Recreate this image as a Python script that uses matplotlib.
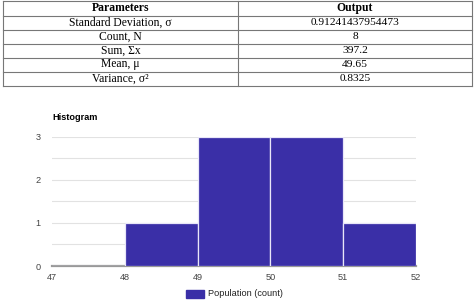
import matplotlib.pyplot as plt
from matplotlib.patches import Rectangle

# table contents
param_names = ["Standard Deviation, σ", "Count, N", "Sum, Σx", "Mean, μ", "Variance, σ²"]
param_values = ["0.91241437954473", "8", "397.2", "49.65", "0.8325"]

# histogram
bin_edges = [47, 48, 49, 50, 51, 52]
counts = [0, 1, 3, 3, 1]

bar_color = "#3a2fa7"

fig = plt.figure(figsize=(4.75, 3.0), dpi=100)

# ---- table drawn in pixel coordinates on a background axes
tab = fig.add_axes([0, 0, 1, 1])
tab.set_xlim(0, 475)
tab.set_ylim(300, 0)
tab.axis("off")

x0, xm, x1 = 3, 238, 472
row_y = [1, 15.5, 29.5, 43.5, 57.5, 71.5, 86]
line_col = "#777777"
for y in row_y:
    tab.plot([x0, x1], [y, y], color=line_col, lw=0.8)
for x in (x0, xm, x1):
    tab.plot([x, x], [row_y[0], row_y[-1]], color=line_col, lw=0.8)

serif = "Liberation Serif"
cl, cr = (x0 + xm) / 2, (xm + x1) / 2
yc = (row_y[0] + row_y[1]) / 2
tab.text(cl, yc, "Parameters", ha="center", va="center", family=serif,
         fontweight="bold", fontsize=8.4)
tab.text(cr, yc, "Output", ha="center", va="center", family=serif,
         fontweight="bold", fontsize=8.4)
for i, (n, v) in enumerate(zip(param_names, param_values)):
    yc = (row_y[i + 1] + row_y[i + 2]) / 2
    tab.text(cl, yc, n, ha="center", va="center", family=serif, fontsize=8.4)
    tab.text(cr, yc, v, ha="center", va="center", family=serif, fontsize=8.2)

# ---- histogram
ax = fig.add_axes([52 / 475, 1 - 266 / 300, 364 / 475, (266 - 136.7) / 300])
widths = [b - a for a, b in zip(bin_edges[:-1], bin_edges[1:])]
ax.bar(bin_edges[:-1], counts, width=widths, align="edge", color=bar_color,
       edgecolor="#e8e6f8", linewidth=0.9, zorder=3)
ax.set_xlim(bin_edges[0], bin_edges[-1])
ax.set_ylim(0, 3)
ax.set_yticks([0, 1, 2, 3])
ax.set_yticks([0.5, 1.5, 2.5], minor=True)
ax.set_xticks(bin_edges)
ax.grid(axis="y", which="both", color="#e2e2e2", lw=0.8, zorder=0)
for s in ("top", "right", "left"):
    ax.spines[s].set_visible(False)
ax.spines["bottom"].set_color("#999999")
ax.spines["bottom"].set_linewidth(1.6)
ax.spines["bottom"].set_zorder(2)
ax.tick_params(which="both", length=0, labelsize=6.6, labelcolor="#444444")
ax.tick_params(axis="y", pad=8)
ax.tick_params(axis="x", pad=5)
for lab in ax.get_xticklabels() + ax.get_yticklabels():
    lab.set_family("Liberation Sans")

fig.text(52 / 475, 1 - 117 / 300, "Histogram", family="Liberation Sans",
         fontweight="bold", fontsize=6.6, va="center", ha="left")

# legend
tab.add_patch(Rectangle((186, 290), 18, 8, color=bar_color))
tab.text(208, 294, "Population (count)", family="Liberation Sans", fontsize=6.6,
         va="center", ha="left", color="#222222")

fig.savefig("out.png", dpi=100)
